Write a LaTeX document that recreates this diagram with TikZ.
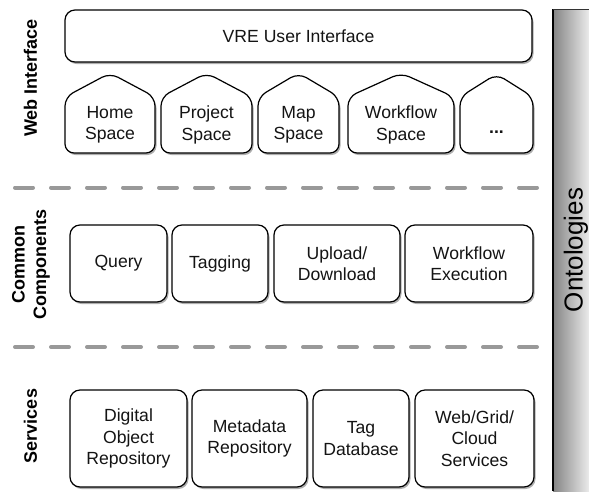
\documentclass[tikz,border=0pt]{standalone}
\usepackage{fontspec}
\setmainfont{Liberation Sans}
\usetikzlibrary{shadows,calc}

\begin{document}
\begin{tikzpicture}[x=1pt,y=-1pt,
  boxtext/.style={font=\fontsize{17.6}{21.5}\selectfont, text=black!92, align=center},
  shadowed/.style={drop shadow={shadow xshift=1.5pt, shadow yshift=-2pt, opacity=0.45, fill=black!70}},
  card/.style={boxtext, draw=black, line width=1.2pt, rounded corners=10pt, fill=white, shadowed, inner sep=0pt, outer sep=0pt},
  housetext/.style={boxtext, inner sep=0pt, outer sep=0pt},
  houseline/.style={draw=black, line width=1.2pt, rounded corners=9pt, fill=white, shadowed},
  layerlabel/.style={font=\fontsize{18}{21.6}\selectfont\bfseries, rotate=90, align=center},
  separator/.style={draw=black!40, line width=4pt, line cap=round, dash pattern=on 18pt off 18pt}
]
\useasboundingbox (0,0) rectangle (589,491);

% layer separators
\coordinate (sepA1) at (15,187.5);
\coordinate (sepA2) at (560,187.5);
\coordinate (sepB1) at (15,347);
\coordinate (sepB2) at (560,347);
\draw[separator] (sepA1) -- (sepA2);
\draw[separator] (sepB1) -- (sepB2);

% ontology column on the right
\shade[left color=black!48, right color=black!8] (553,9) rectangle (589,491);
\draw[line width=1.5pt] (553,491) -- (553,9);
\draw[line width=0.8pt, black!80] (553,9) -- (589,9);
\node[rotate=90, font=\fontsize{26}{30}\selectfont, inner sep=0pt] (onto) at (576,250) {Ontologies};

% layer labels
\node[layerlabel, inner sep=0pt] (lweb) at (30.5,78) {Web Interface};
\node[layerlabel, inner sep=0pt] (lcommon) at (31,264) {Common\\Components};
\node[layerlabel, inner sep=0pt] (lserv) at (30.5,426) {Services};

% web interface
\node[card, minimum width=467pt, minimum height=52pt] (vre) at (298.5,36) {VRE User Interface};

% house-shaped space: [text shift], name, width, centre x, roof height, text
\newcommand{\spacehouse}[6][0]{%
  \node[housetext, minimum width=#3, minimum height=56pt] (#2) at (#4,125) {};
  \path[houseline] (#2.south west) -- (#2.north west) -- ($(#2.north)+(0,-#5)$) -- (#2.north east) -- (#2.south east) -- cycle;
  \node[housetext] (#2-text) at ($(#2)+(0,#1)$) {#6};
}
\spacehouse{home}{90pt}{110}{24}{Home\\Space}
\spacehouse{project}{91pt}{206.5}{24}{Project\\Space}
\spacehouse{map}{81pt}{298.5}{24}{Map\\Space}
\spacehouse{workflow}{106pt}{401}{24}{Workflow\\Space}
\spacehouse[7]{more}{73pt}{496.5}{23}{\bfseries...}

% common components
\node[card, minimum width=97pt, minimum height=77pt] (query) at (118.5,263.5) {Query};
\node[card, minimum width=96pt, minimum height=77pt] (tagging) at (220,263.5) {Tagging};
\node[card, minimum width=126pt, minimum height=77pt] (upload) at (337,263.5) {Upload/\\Download};
\node[card, minimum width=128pt, minimum height=77pt] (wfexec) at (469,263.5) {Workflow\\Execution};

% services
\node[card, minimum width=117pt, minimum height=97pt] (dor) at (128.5,438.5) {Digital\\Object\\Repository};
\node[card, minimum width=115pt, minimum height=97pt] (meta) at (249.5,438.5) {Metadata\\Repository};
\node[card, minimum width=96pt, minimum height=97pt] (tagdb) at (361,438.5) {Tag\\Database};
\node[card, minimum width=119pt, minimum height=97pt] (cloud) at (474.5,438.5) {Web/Grid/\\Cloud\\Services};
\end{tikzpicture}
\end{document}
